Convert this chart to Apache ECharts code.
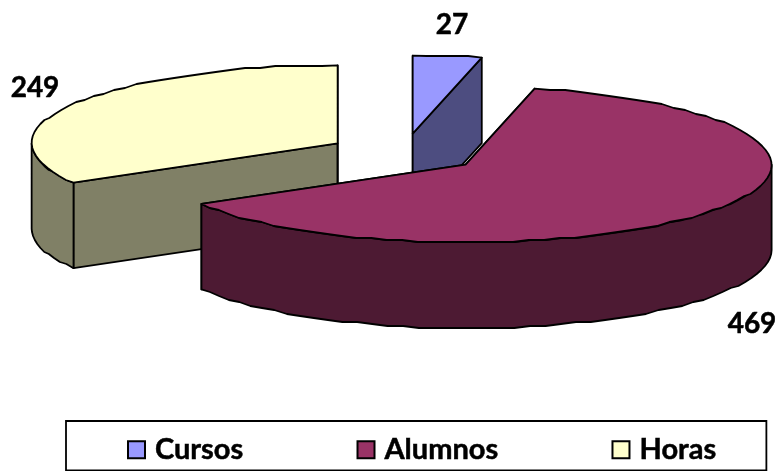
<!DOCTYPE html>
<html>
<head>
<meta charset="utf-8">
<script src="https://cdn.jsdelivr.net/npm/echarts@6/dist/echarts.min.js"></script>
<style>
  html,body{margin:0;padding:0;background:#fff;}
  #chart{width:777px;height:471px;}
</style>
</head>
<body>
<div id="chart"></div>
<script>
var categories = ['Cursos', 'Alumnos', 'Horas'];
var values = [27, 469, 249];
var topColors = ['#9999FF', '#993366', '#FFFFCC'];
var wallColors = ['#4D4D80', '#4D1A33', '#808066'];

// geometria del pastel 3D
var CX = 404, CY = 153, RX = 306, RY = 78, DEPTH = 85.5, EXPLODE = 0.25;
var labelPos = [[452, 25], [752, 324], [35, 88]];
var GRID = 2; // el contorno original va a saltos, no es una curva limpia

var total = values.reduce(function (a, b) { return a + b; }, 0);

// angulos desde arriba, en sentido horario
function sliceAngles(i) {
  var before = 0;
  for (var k = 0; k < i; k++) before += values[k];
  return [before / total * 360, (before + values[i]) / total * 360];
}

function pt(c, a, drop) {
  var r = a * Math.PI / 180;
  return [c[0] + RX * Math.sin(r), c[1] - RY * Math.cos(r) + (drop || 0)];
}

function arc(c, a0, a1, drop) {
  var pts = [];
  var n = Math.max(1, Math.ceil(Math.abs(a1 - a0) / 3));
  for (var i = 0; i <= n; i++) {
    var p = pt(c, a0 + (a1 - a0) * i / n, drop);
    // los extremos quedan exactos para que cierren con las caras del corte
    if (i > 0 && i < n) p = [p[0], Math.round(p[1] / GRID) * GRID];
    pts.push(p);
  }
  return pts;
}

function poly(points, fill) {
  return {
    type: 'polygon',
    shape: { points: points },
    style: { fill: fill, stroke: '#000', lineWidth: 1.8, lineJoin: 'round' }
  };
}

function renderSlice(i) {
  var ang = sliceAngles(i);
  var mid = (ang[0] + ang[1]) / 2;
  var c = pt([CX, CY], mid, 0);
  c = [CX + (c[0] - CX) * EXPLODE, CY + (c[1] - CY) * EXPLODE];
  var children = [];

  // caras del corte
  [ang[0], ang[1]].forEach(function (a) {
    var p = pt(c, a);
    children.push(poly([c, p, [p[0], p[1] + DEPTH], [c[0], c[1] + DEPTH]], wallColors[i]));
  });

  // pared exterior, solo la mitad delantera (90..270)
  var w0 = Math.max(ang[0], 90), w1 = Math.min(ang[1], 270);
  if (w1 > w0) {
    children.push(poly(arc(c, w0, w1).concat(arc(c, w1, w0, DEPTH)), wallColors[i]));
  }

  // cara superior
  children.push(poly([c].concat(arc(c, ang[0], ang[1])), topColors[i]));

  // etiqueta
  children.push({
    type: 'text',
    z2: 10,
    style: {
      x: labelPos[i][0], y: labelPos[i][1],
      text: String(values[i]),
      fill: '#000',
      stroke: '#000',
      lineWidth: 0.5,
      font: 'bold 28px Lato, "Open Sans", sans-serif',
      align: 'center', verticalAlign: 'middle'
    }
  });
  return { type: 'group', children: children };
}

// orden de dibujo: los de atras primero
var drawOrder = [0, 2, 1];

var chart = echarts.init(document.getElementById('chart'));
chart.setOption({
  animation: false,
  backgroundColor: '#fff',
  legend: {
    data: categories,
    left: 66,
    top: 421,
    icon: 'rect',
    itemWidth: 17,
    itemHeight: 17,
    itemGap: 113,
    padding: [14, 50, 6, 61],
    borderColor: '#000',
    borderWidth: 1.8,
    selectedMode: false,
    textStyle: {
      color: '#000',
      fontFamily: 'Lato, "Open Sans", sans-serif',
      fontWeight: 'bold',
      fontSize: 29,
      textBorderColor: '#000',
      textBorderWidth: 0.5,
      padding: [0, 0, 0, 5]
    }
  },
  series: categories.map(function (name, i) {
    return {
      type: 'custom',
      name: name,
      coordinateSystem: 'none',
      silent: true,
      z: drawOrder.indexOf(i) + 2,
      itemStyle: { color: topColors[i], borderColor: '#000', borderWidth: 1.8 },
      data: [values[i]],
      renderItem: function () { return renderSlice(i); }
    };
  })
});
</script>
</body>
</html>
